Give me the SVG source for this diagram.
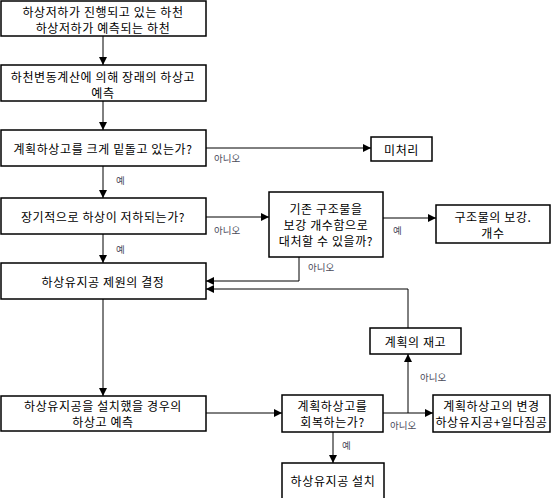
<svg xmlns="http://www.w3.org/2000/svg" width="551" height="498" viewBox="0 0 551 498">
<defs>
<marker id="ah" markerUnits="userSpaceOnUse" markerWidth="8" markerHeight="8" refX="8" refY="4" orient="auto">
<path d="M0,0 L8,4 L0,8 z" fill="#000"/>
</marker>
<style>
.box{fill:#fff;stroke:#000;stroke-width:1.5}
.t{font-family:"Noto Sans CJK KR","Noto Sans",sans-serif;font-size:12px;letter-spacing:0.6px;fill:#000;text-anchor:middle;dominant-baseline:central}
.lbl{font-family:"Noto Sans CJK KR","Noto Sans",sans-serif;font-size:9.5px;fill:#4a4a5a;dominant-baseline:central}
.c{fill:none;stroke:#000;stroke-width:1}
.a{marker-end:url(#ah)}
</style>
</defs>
<rect width="551" height="498" fill="#fff"/>
<g id="connectors">
<line class="c a" x1="103" y1="36" x2="103" y2="65"/>
<line class="c a" x1="103" y1="101" x2="103" y2="130"/>
<line class="c a" x1="206" y1="148" x2="371" y2="148"/>
<line class="c a" x1="103" y1="166" x2="103" y2="198"/>
<line class="c a" x1="206" y1="217" x2="269" y2="217"/>
<line class="c a" x1="383" y1="218" x2="436" y2="218"/>
<line class="c a" x1="103" y1="234" x2="103" y2="263"/>
<polyline class="c a" points="299,257 299,281 206,281"/>
<polyline class="c a" points="408,354 408,289 206,289"/>
<line class="c a" x1="103" y1="299" x2="103" y2="396"/>
<line class="c a" x1="206" y1="413" x2="282" y2="413"/>
<line class="c a" x1="383" y1="413" x2="433" y2="413"/>
<line class="c a" x1="408" y1="413" x2="408" y2="354"/>
<line class="c a" x1="333" y1="432" x2="333" y2="463"/>
<text class="lbl" x="214" y="158">아니오</text>
<text class="lbl" x="116" y="180">예</text>
<text class="lbl" x="214" y="230">아니오</text>
<text class="lbl" x="393" y="230">예</text>
<text class="lbl" x="116" y="249">예</text>
<text class="lbl" x="308" y="267">아니오</text>
<text class="lbl" x="420" y="377">아니오</text>
<text class="lbl" x="390" y="425">아니오</text>
<text class="lbl" x="342" y="445">예</text>
</g>
<g id="n1"><rect class="box" x="1" y="1" width="205" height="35"/>
<text class="t" x="103" y="11">하상저하가 진행되고 있는 하천</text>
<text class="t" x="103" y="27">하상저하가 예측되는 하천</text></g>
<g id="n2"><rect class="box" x="1" y="65" width="205" height="36"/>
<text class="t" x="103" y="76">하천변동계산에 의해 장래의 하상고</text>
<text class="t" x="103" y="92">예측</text></g>
<g id="n3"><rect class="box" x="1" y="130" width="205" height="36"/>
<text class="t" x="103" y="148">계획하상고를 크게 밑돌고 있는가?</text></g>
<g id="n4"><rect class="box" x="371" y="137" width="61" height="24"/>
<text class="t" x="401.5" y="149">미처리</text></g>
<g id="n5"><rect class="box" x="1" y="198" width="205" height="36"/>
<text class="t" x="103" y="216">장기적으로 하상이 저하되는가?</text></g>
<g id="n6"><rect class="box" x="269" y="192" width="114" height="65"/>
<text class="t" x="326" y="208">기존 구조물을</text>
<text class="t" x="326" y="224">보강 개수함으로</text>
<text class="t" x="326" y="240">대처할 수 있을까?</text></g>
<g id="n7"><rect class="box" x="436" y="205" width="114" height="38"/>
<text class="t" x="493" y="216">구조물의 보강.</text>
<text class="t" x="493" y="232">개수</text></g>
<g id="n8"><rect class="box" x="1" y="263" width="205" height="36"/>
<text class="t" x="103" y="281">하상유지공 제원의 결정</text></g>
<g id="n9"><rect class="box" x="370" y="328" width="91" height="26"/>
<text class="t" x="415.5" y="341">계획의 재고</text></g>
<g id="n10"><rect class="box" x="1" y="396" width="205" height="35"/>
<text class="t" x="103" y="405.5">하상유지공을 설치했을 경우의</text>
<text class="t" x="103" y="421.5">하상고 예측</text></g>
<g id="n11"><rect class="box" x="282" y="395" width="101" height="37"/>
<text class="t" x="332.5" y="405.5">계획하상고를</text>
<text class="t" x="332.5" y="421.5">회복하는가?</text></g>
<g id="n12"><rect class="box" x="433" y="395" width="117" height="37"/>
<text class="t" x="491.5" y="405.5">계획하상고의 변경</text>
<text class="t" x="491.5" y="421.5">하상유지공+일다짐공</text></g>
<g id="n13"><rect class="box" x="282" y="463" width="102" height="40"/>
<text class="t" x="333" y="480">하상유지공 설치</text></g>
</svg>
